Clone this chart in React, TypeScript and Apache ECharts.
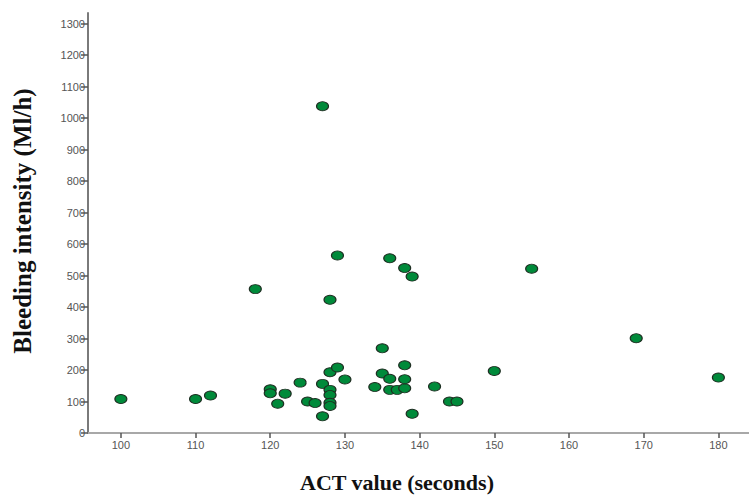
import React, { useEffect, useRef } from "react";
import * as echarts from "echarts";

const actValues: number[] = [
  100, 110, 112, 118, 120, 120, 121, 122, 124, 125, 126, 127, 127, 127, 128, 128,
  128, 128, 128, 128, 129, 129, 130, 134, 135, 135, 136, 136, 136, 137, 138, 138,
  138, 138, 139, 139, 142, 144, 145, 150, 155, 169, 180,
];
const bleedingValues: number[] = [
  108, 108, 119, 457, 139, 126, 93, 125, 160, 100, 95, 156, 53, 1038, 193, 423,
  137, 121, 96, 86, 208, 564, 170, 146, 269, 189, 172, 137, 555, 137, 142, 171,
  215, 524, 61, 497, 148, 100, 100, 197, 522, 301, 176,
];
const xTicks: number[] = [100, 110, 120, 130, 140, 150, 160, 170, 180];
const yTicks: number[] = [0, 100, 200, 300, 400, 500, 600, 700, 800, 900, 1000, 1100, 1200, 1300];
const xTitle = "ACT value (seconds)";
const yTitle = "Bleeding intensity (Ml/h)";

export default function App() {
  const ref = useRef<HTMLDivElement>(null);
  useEffect(() => {
    if (!ref.current) return;
    const chart = echarts.init(ref.current, null, { renderer: "svg" });
    const data = actValues.map((x, i) => [x, bleedingValues[i]]);
    const axisColor = "#7a7a7a";
    const labelStyle = {
      color: "#555",
      fontSize: 11,
      fontFamily: "Liberation Sans, Arial, sans-serif",
      formatter: (v: number) => String(v),
    };
    chart.setOption({
      animation: false,
      backgroundColor: "#ffffff",
      grid: { left: 88, right: 0, top: 13, bottom: 62, containLabel: false },
      xAxis: [
        {
          type: "value",
          min: 95.6,
          max: 184.1,
          splitLine: { show: false },
          axisLine: { show: true, onZero: false, lineStyle: { color: axisColor, width: 2 } },
          axisTick: {
            show: true,
            length: 5,
            customValues: xTicks,
            lineStyle: { color: "#555", width: 1.5 },
          },
          axisLabel: { ...labelStyle, margin: 6, customValues: xTicks },
        },
        {
          type: "value",
          position: "top",
          min: 95.6,
          max: 184.1,
          splitLine: { show: false },
          axisLine: { show: true, lineStyle: { color: "#a8a8a8", width: 2 } },
          axisTick: { show: false },
          axisLabel: { show: false },
        },
      ],
      yAxis: {
        type: "value",
        min: 0,
        max: 1334,
        splitLine: { show: false },
        axisLine: { show: true, onZero: false, lineStyle: { color: axisColor, width: 2 } },
        axisTick: {
          show: true,
          length: 7,
          customValues: yTicks,
          lineStyle: { color: "#555", width: 1.5 },
        },
        axisLabel: { ...labelStyle, margin: 3, customValues: yTicks },
      },
      series: [
        {
          type: "scatter",
          xAxisIndex: 0,
          data,
          symbol: "circle",
          symbolSize: [12, 9],
          itemStyle: { color: "#008a3a", borderColor: "#1e2e22", borderWidth: 1, opacity: 1 },
        },
      ],
      graphic: [
        {
          type: "text",
          x: 397,
          y: 482,
          style: {
            text: xTitle,
            align: "center",
            verticalAlign: "middle",
            fontFamily: "Liberation Serif, Times New Roman, serif",
            fontWeight: "bold",
            fontSize: 22,
            fill: "#111",
          },
        },
        {
          type: "text",
          x: 22,
          y: 221,
          rotation: Math.PI / 2,
          style: {
            text: yTitle,
            align: "center",
            verticalAlign: "middle",
            fontFamily: "Liberation Serif, Times New Roman, serif",
            fontWeight: "bold",
            fontSize: 25,
            fill: "#111",
          },
        },
      ],
    });
    return () => chart.dispose();
  }, []);
  return (
    <div
      ref={ref}
      style={{ position: "absolute", left: 0, top: 0, width: 749, height: 495 }}
    />
  );
}
